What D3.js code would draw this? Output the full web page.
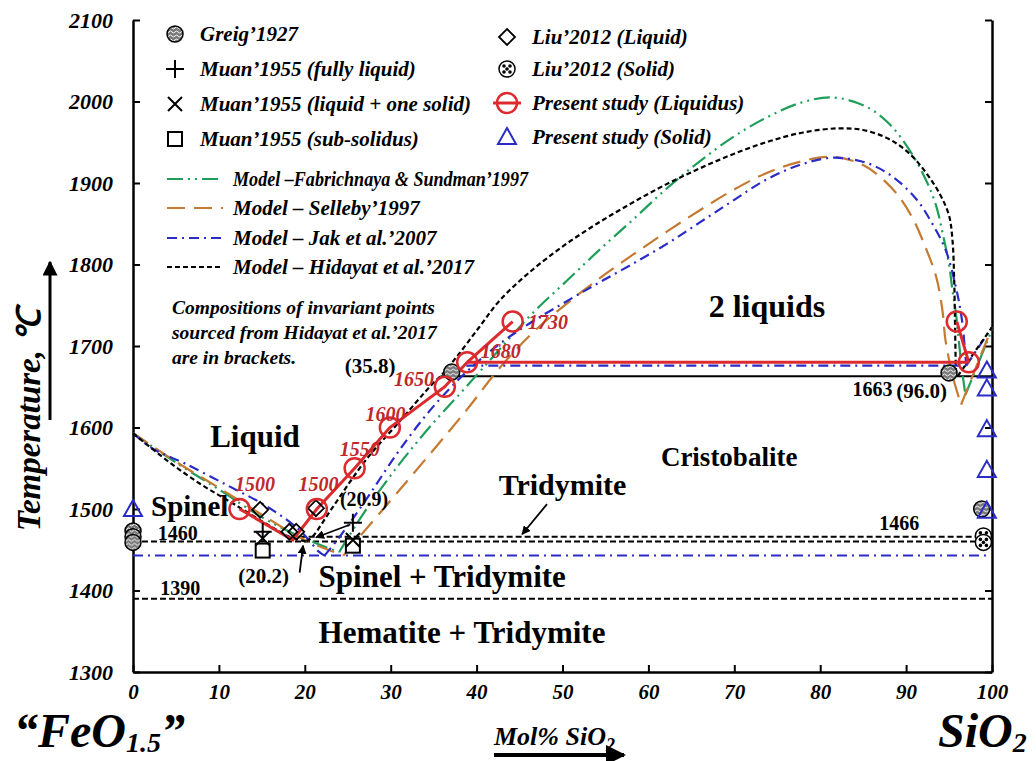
<!DOCTYPE html>
<html>
<head>
<meta charset="utf-8">
<script src="https://cdn.jsdelivr.net/npm/d3@7"></script>
<style>
  body { margin: 0; background: #fff; }
  text { font-family: "Liberation Serif", "Times New Roman", serif; font-weight: bold; }
</style>
</head>
<body>
<svg id="chart"></svg>
<script>
// ---- data (x = mol% SiO2, y = temperature in C) ----
const xTicks = [0, 10, 20, 30, 40, 50, 60, 70, 80, 90, 100];
const yTicks = [1300, 1400, 1500, 1600, 1700, 1800, 1900, 2000, 2100];

// present study
const redLiquidus = [[12.4, 1500], [18.6, 1462], [21.4, 1500], [25.8, 1550], [29.9, 1600], [36.3, 1650], [38.9, 1680], [44.2, 1730]];
const redMonotectic = [[38.9, 1680], [97.3, 1680]];
const redRight = [[95.9, 1730], [97.3, 1680]];
const redCircles = [[12.4, 1500], [21.4, 1500], [25.8, 1550], [29.9, 1600], [36.3, 1650], [38.9, 1680], [44.2, 1730], [95.9, 1730], [97.3, 1680]];
const redLabels = ['1500', '1500', '1550', '1600', '1650', '1680', '1730'];
const presentSolid = [[0, 1500], [99.4, 1670], [99.4, 1648], [99.4, 1598], [99.4, 1548], [99.4, 1498]];

// experimental points
const greig1927 = [[0, 1473], [0, 1466], [0, 1459], [37.1, 1668], [95.0, 1667], [98.8, 1500]];
const muanLiquid = [[15.1, 1472], [25.6, 1483]];
const muanOneSolid = [[15.1, 1464], [25.6, 1462]];
const muanSubSolidus = [[15.1, 1449], [25.6, 1455]];
const liuLiquid = [[14.8, 1499], [18.2, 1472], [19.0, 1472], [21.3, 1501]];
const liuSolid = [[99.0, 1467], [99.0, 1459]];

// Fabrichnaya & Sundman 1997
const fabLeft = [[0, 1593], [5, 1557], [10, 1524], [15, 1490], [19.5, 1466], [24, 1447]];
const fabRight = [[24, 1447], [27, 1497], [31, 1555], [34.9, 1605], [38.8, 1650], [42.6, 1695], [46.5, 1740], [50.5, 1780], [54.3, 1818], [58.2, 1855], [62.1, 1893], [65.9, 1926], [69.8, 1956], [73.7, 1980], [77.6, 1998], [81.4, 2005], [85.3, 1994], [88, 1973], [90.3, 1942], [92.3, 1904], [93.5, 1872], [94.3, 1836], [95, 1800], [95.4, 1768], [95.8, 1740], [96.4, 1680], [96.9, 1640]];
const fabCristobalite = [[96.9, 1640], [100, 1720]];

// Selleby 1997
const selLeft = [[0, 1593], [5, 1558], [10, 1526], [15, 1493], [20, 1462], [24.5, 1443]];
const selRight = [[24.5, 1443], [31, 1523], [38.8, 1621], [42.6, 1672], [46.5, 1716], [50.5, 1752], [54.3, 1783], [58.2, 1812], [62.1, 1840], [65.9, 1866], [69.8, 1891], [73.7, 1912], [77.6, 1926], [81.4, 1932], [85, 1922], [88.4, 1893], [90.7, 1858], [92.3, 1820], [93.5, 1785], [94.2, 1746], [94.6, 1706], [95.5, 1660], [96.4, 1628]];
const selCristobalite = [[96.4, 1628], [100, 1723]];

// Jak et al. 2007
const jakLeft = [[0, 1593], [2.3, 1574], [6, 1556], [11, 1529], [15.6, 1503], [19.4, 1474], [21.7, 1447], [22.3, 1443]];
const jakRight = [[22.3, 1443], [24, 1465], [27.1, 1511], [31, 1572], [34.9, 1625], [38.8, 1668], [42.6, 1702], [46.5, 1730], [50.5, 1755], [54.3, 1778], [58.2, 1801], [62.1, 1825], [65.9, 1851], [69.8, 1878], [73.7, 1904], [77.6, 1922], [81.4, 1931], [85.3, 1925], [88.4, 1908], [91.2, 1880], [93, 1851], [94.6, 1818], [95.8, 1772], [96.5, 1732], [97, 1676]];
const jakCristobalite = [[97, 1676], [100, 1723]];
const jakMonotectic = [[38.8, 1676], [97, 1676]];
const jakEutectic = [[0, 1443], [100, 1443]];

// Hidayat et al. 2017
const hidLeft = [[0, 1593], [3.9, 1560], [7.8, 1531], [11.6, 1507], [15.5, 1482], [18.2, 1466], [20.2, 1460]];
const hidRight = [[20.2, 1460], [20.9, 1466], [23.3, 1503], [27.1, 1560], [31, 1607], [34.9, 1654], [35.8, 1663], [37.7, 1687], [40.3, 1723], [42.7, 1756], [46, 1789], [50, 1822], [54, 1850], [58, 1875], [62, 1898], [66, 1918], [70, 1936], [74, 1951], [78, 1962], [82, 1967], [85, 1965], [88, 1954], [90.5, 1935], [92.5, 1910], [94, 1885], [95, 1860], [95.4, 1830], [95.6, 1780], [95.7, 1723], [95.8, 1663]];
const hidCristobalite = [[96.0, 1663], [100, 1723]];
const hidMonotectic = [[35.8, 1663], [100, 1663]];
const hidLines = [[[0, 1460], [100, 1460]], [[19.4, 1466], [100, 1466]], [[0, 1390], [100, 1390]]];

// ---- layout ----
const W = 1036, H = 761;
const margin = { top: 20, right: 44, bottom: 89, left: 133 };
const RED = '#dc2a2e', GREEN = '#1f9e5a', ORANGE = '#c57a32', BLUE = '#2b2bc8';

const svg = d3.select('#chart').attr('width', W).attr('height', H);
svg.append('rect').attr('width', W).attr('height', H).attr('fill', '#fff');

const x = d3.scaleLinear().domain([0, 100]).range([margin.left, W - margin.right]);
const y = d3.scaleLinear().domain([1300, 2100]).range([H - margin.bottom, margin.top]);

const defs = svg.append('defs');
// wavy hatch for Greig'1927 symbols
const wavy = defs.append('pattern').attr('id', 'wavy').attr('patternUnits', 'userSpaceOnUse')
    .attr('width', 6).attr('height', 4);
wavy.append('rect').attr('width', 6).attr('height', 4).attr('fill', '#777');
wavy.append('path').attr('d', 'M0,2 Q1.5,0 3,2 T6,2').attr('stroke', '#fff').attr('stroke-width', 1).attr('fill', 'none');
defs.append('marker').attr('id', 'arrow').attr('viewBox', '0 0 10 10').attr('refX', 9).attr('refY', 5)
    .attr('markerWidth', 5).attr('markerHeight', 5).attr('orient', 'auto-start-reverse')
    .append('path').attr('d', 'M0,0 L10,5 L0,10 z').attr('fill', '#000');

const line = d3.line().x(d => x(d[0])).y(d => y(d[1]));

// axes
svg.append('g').attr('transform', `translate(${x(0)},0)`)
    .call(d3.axisLeft(y).tickValues(yTicks).tickFormat(d3.format('d')).tickSizeInner(-7).tickSizeOuter(0).tickPadding(20))
    .call(g => g.select('.domain').attr('stroke-width', 2.5))
    .call(g => g.selectAll('.tick line').attr('stroke-width', 2))
    .call(g => g.selectAll('.tick text').attr('font-size', 22).attr('font-style', 'italic')
        .attr('font-family', '"Liberation Serif", serif').attr('font-weight', 'bold'));

svg.append('g').attr('transform', `translate(${x(100)},0)`)
    .call(d3.axisRight(y).tickValues(yTicks).tickSizeInner(-7).tickSizeOuter(0).tickFormat(''))
    .call(g => g.select('.domain').attr('stroke-width', 2.5))
    .call(g => g.selectAll('.tick line').attr('stroke-width', 2));

svg.append('g').attr('transform', `translate(0,${y(1300)})`)
    .call(d3.axisBottom(x).tickValues(xTicks).tickSizeInner(-7).tickSizeOuter(0).tickPadding(12))
    .call(g => g.select('.domain').attr('stroke-width', 2.5))
    .call(g => g.selectAll('.tick line').attr('stroke-width', 2))
    .call(g => g.selectAll('.tick text').attr('font-size', 21).attr('font-style', 'italic')
        .attr('font-family', '"Liberation Serif", serif').attr('font-weight', 'bold'));

// horizontal invariant lines
hidLines.forEach(l => svg.append('path').datum(l).attr('d', line).attr('fill', 'none')
    .attr('stroke', '#000').attr('stroke-width', 2).attr('stroke-dasharray', '6,3'));
svg.append('path').datum(jakEutectic).attr('d', line).attr('fill', 'none')
    .attr('stroke', BLUE).attr('stroke-width', 2).attr('stroke-dasharray', '10,5,2,5');
svg.append('path').datum(hidMonotectic).attr('d', line).attr('fill', 'none')
    .attr('stroke', '#000').attr('stroke-width', 2);

// model curves
const models = [
    { lines: [fabLeft, fabRight, fabCristobalite], color: GREEN, dash: '16,5,2,5,2,5' },
    { lines: [selLeft, selRight, selCristobalite], color: ORANGE, dash: '18,9' },
    { lines: [jakLeft, jakRight, jakCristobalite, jakMonotectic], color: BLUE, dash: '10,5,2,5' },
    { lines: [hidLeft, hidRight, hidCristobalite], color: '#000', dash: '5,3' }
];
const curve = d3.line().x(d => x(d[0])).y(d => y(d[1])).curve(d3.curveCatmullRom.alpha(0.5));
models.forEach(m => m.lines.forEach(l => svg.append('path').datum(l).attr('d', curve)
    .attr('fill', 'none').attr('stroke', m.color).attr('stroke-width', 2.2).attr('stroke-dasharray', m.dash)));

// present study liquidus
[redLiquidus, redMonotectic, redRight].forEach(l => svg.append('path').datum(l).attr('d', line)
    .attr('fill', 'none').attr('stroke', RED).attr('stroke-width', 3));

// symbols
function sym(type, cx, cy) {
    const g = svg.append('g').attr('transform', `translate(${cx},${cy})`);
    if (type === 'greig') {
        g.append('circle').attr('r', 8).attr('fill', 'url(#wavy)').attr('stroke', '#000').attr('stroke-width', 1.5);
    } else if (type === 'liuSolid') {
        g.append('circle').attr('r', 8).attr('fill', '#fff').attr('stroke', '#000').attr('stroke-width', 1.5);
        [[-3, -3], [3, -3], [-3, 3], [3, 3], [0, 0]].forEach(p => g.append('circle')
            .attr('cx', p[0]).attr('cy', p[1]).attr('r', 1.8).attr('fill', '#000'));
    } else if (type === 'plus') {
        g.append('path').attr('d', 'M-9,0H9M0,-9V9').attr('stroke', '#000').attr('stroke-width', 2);
    } else if (type === 'cross') {
        g.append('path').attr('d', 'M-7,-7L7,7M-7,7L7,-7').attr('stroke', '#000').attr('stroke-width', 2);
    } else if (type === 'square') {
        g.append('rect').attr('x', -7).attr('y', -7).attr('width', 14).attr('height', 14)
            .attr('fill', '#fff').attr('stroke', '#000').attr('stroke-width', 2);
    } else if (type === 'diamond') {
        g.append('path').attr('d', 'M0,-8L8,0L0,8L-8,0Z').attr('fill', 'none').attr('stroke', '#000').attr('stroke-width', 1.8);
    } else if (type === 'redCircle') {
        g.append('circle').attr('r', 10).attr('fill', 'none').attr('stroke', RED).attr('stroke-width', 2.5);
    } else if (type === 'triangle') {
        g.append('path').attr('d', 'M0,-9L9,7L-9,7Z').attr('fill', 'none').attr('stroke', BLUE).attr('stroke-width', 2);
    }
}
const pts = (arr, type) => arr.forEach(d => sym(type, x(d[0]), y(d[1])));
pts(muanSubSolidus, 'square');
pts(muanLiquid, 'plus');
pts(muanOneSolid, 'cross');
pts(greig1927, 'greig');
pts(liuSolid, 'liuSolid');
pts(liuLiquid, 'diamond');
pts(redCircles, 'redCircle');
pts(presentSolid, 'triangle');

// text helper (positions in data units)
function label(txt, dx, dy, size, opts = {}) {
    svg.append('text').attr('x', x(dx)).attr('y', y(dy)).attr('font-size', size)
        .attr('text-anchor', opts.anchor || 'middle').attr('dominant-baseline', 'middle')
        .attr('font-style', opts.italic ? 'italic' : 'normal').attr('fill', opts.color || '#000').text(txt);
}
const redLabelPos = [[14.2, 1528], [21.6, 1528], [26.4, 1571], [29.4, 1613], [32.7, 1656], [42.8, 1691], [48.3, 1726]];
redLabels.forEach((t, i) => label(t, redLabelPos[i][0], redLabelPos[i][1], 20, { italic: true, color: '#c0282d' }));

label('1460', 5.2, 1467, 20);
label('1390', 5.5, 1400, 20);
label('1466', 89.2, 1480, 20);
label('1663', 86.1, 1644, 20);
label('(96.0)', 91.8, 1642, 21);
label('(35.8)', 27.6, 1673, 21);
label('(20.9)', 26.9, 1509, 20);
label('(20.2)', 15.2, 1415, 21);

label('Liquid', 14.2, 1585, 31);
label('Spinel', 6.6, 1499, 29);
label('2 liquids', 73.8, 1744, 32);
label('Cristobalite', 69.4, 1560, 27);
label('Tridymite', 50.0, 1526, 30);
label('Spinel + Tridymite', 36.0, 1413, 31);
label('Hematite + Tridymite', 38.3, 1344, 31);

// arrows
function arrow(x1, y1, x2, y2, w) {
    svg.append('line').attr('x1', x1).attr('y1', y1).attr('x2', x2).attr('y2', y2)
        .attr('stroke', '#000').attr('stroke-width', w || 1.8).attr('marker-end', 'url(#arrow)');
}
arrow(x(25.3), y(1481), x(21.3), y(1465));
arrow(x(19.4), y(1422), x(19.8), y(1455));
arrow(x(48.2), y(1506), x(45.3), y(1469));

// note
['Compositions of invariant points', 'sourced from Hidayat et al.\u20192017', 'are in brackets.']
    .forEach((t, i) => svg.append('text').attr('x', 172).attr('y', 314 + i * 25).attr('font-size', 19.5)
        .attr('font-style', 'italic').text(t));

// legend
const legendLeft = [
    { type: 'greig', text: 'Greig\u20191927' },
    { type: 'plus', text: 'Muan\u20191955 (fully liquid)' },
    { type: 'cross', text: 'Muan\u20191955 (liquid + one solid)' },
    { type: 'square', text: 'Muan\u20191955 (sub-solidus)' }
];
const legendRows = [34, 69, 104, 139];
legendLeft.forEach((d, i) => {
    sym(d.type, 175, legendRows[i]);
    svg.append('text').attr('x', 200).attr('y', legendRows[i] + 7).attr('font-size', 21)
        .attr('font-style', 'italic').text(d.text);
});
const legendRight = [
    { type: 'diamond', text: 'Liu\u20192012 (Liquid)' },
    { type: 'liuSolid', text: 'Liu\u20192012 (Solid)' },
    { type: 'redCircle', text: 'Present study (Liquidus)' },
    { type: 'triangle', text: 'Present study (Solid)' }
];
const legendRowsR = [37, 69, 103, 137];
legendRight.forEach((d, i) => {
    if (d.type === 'redCircle') svg.append('line').attr('x1', 493).attr('x2', 521)
        .attr('y1', legendRowsR[i]).attr('y2', legendRowsR[i]).attr('stroke', RED).attr('stroke-width', 3);
    sym(d.type, 507, legendRowsR[i]);
    svg.append('text').attr('x', 532).attr('y', legendRowsR[i] + 7).attr('font-size', 21)
        .attr('font-style', 'italic').text(d.text);
});
const legendModels = [
    { color: GREEN, dash: '16,5,2,5,2,5', text: 'Model \u2013Fabrichnaya & Sundman\u20191997', y: 179, len: 295 },
    { color: ORANGE, dash: '18,9', text: 'Model \u2013 Selleby\u20191997', y: 208 },
    { color: BLUE, dash: '10,5,2,5', text: 'Model \u2013 Jak et al.\u20192007', y: 238 },
    { color: '#000', dash: '5,3', text: 'Model \u2013 Hidayat et al.\u20192017', y: 267 }
];
legendModels.forEach(d => {
    svg.append('line').attr('x1', 167).attr('x2', 223).attr('y1', d.y).attr('y2', d.y)
        .attr('stroke', d.color).attr('stroke-width', 2.2).attr('stroke-dasharray', d.dash);
    const t = svg.append('text').attr('x', 233).attr('y', d.y + 7).attr('font-size', 21)
        .attr('font-style', 'italic').text(d.text);
    if (d.len) t.attr('textLength', d.len).attr('lengthAdjust', 'spacingAndGlyphs');
});

// axis titles
svg.append('text').attr('transform', 'translate(40,420) rotate(-90)').attr('text-anchor', 'middle')
    .attr('font-size', 33).attr('font-style', 'italic').text('Temperature, \u2103');
arrow(50, 420, 50, 262, 3);

const fe = svg.append('text').attr('x', 14).attr('y', 747).attr('font-size', 48).attr('font-style', 'italic');
fe.append('tspan').text('\u201CFeO');
fe.append('tspan').attr('font-size', 28).attr('dy', 5).text('1.5');
fe.append('tspan').attr('dy', -5).text('\u201D');

const si = svg.append('text').attr('x', 938).attr('y', 747).attr('font-size', 48).attr('font-style', 'italic');
si.append('tspan').text('SiO');
si.append('tspan').attr('font-size', 28).attr('dy', 5).text('2');

const mol = svg.append('text').attr('x', 494).attr('y', 745).attr('font-size', 26).attr('font-style', 'italic');
mol.append('tspan').text('Mol% SiO');
mol.append('tspan').attr('font-size', 18).attr('dy', 6).text('2');
arrow(494, 755, 624, 755, 4);
</script>
</body>
</html>
